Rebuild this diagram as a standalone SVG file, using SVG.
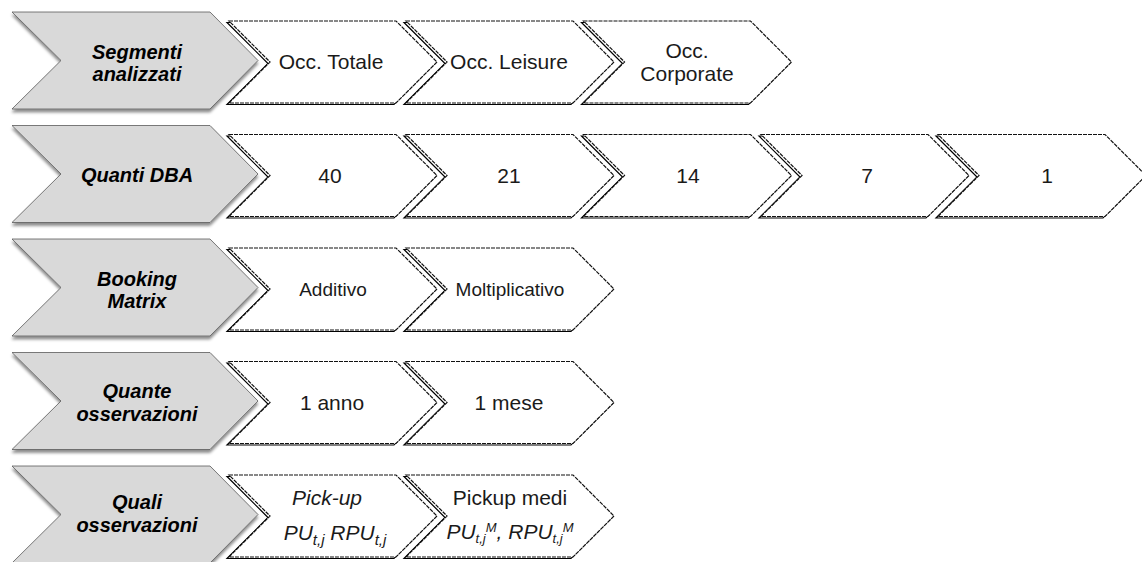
<svg xmlns="http://www.w3.org/2000/svg" width="1142" height="562" viewBox="0 0 1142 562">
  <style>
    .hdr { fill: #d9d9d9; stroke: #5a5a5a; stroke-width: 0.8; filter: url(#soft); }
    .opt { fill: #ffffff; stroke: #111111; stroke-width: 1.2; stroke-dasharray: 4 1; }
    .optShadow { fill: none; stroke: #000000; stroke-width: 1.2; }
    .hdrText { font-family: "Liberation Sans", Arial, sans-serif; font-size: 20px; font-weight: bold; font-style: italic; fill: #000; text-anchor: middle; }
    .optText { font-family: "Liberation Sans", Arial, sans-serif; font-size: 21px; fill: #1a1a1a; text-anchor: middle; }
    .small { font-size: 19px; }
    .it { font-style: italic; }
  </style>
  <defs>
    <filter id="soft" x="-10%" y="-10%" width="120%" height="130%">
      <feDropShadow dx="0" dy="3" stdDeviation="1.4" flood-color="#000" flood-opacity="0.45"/>
    </filter>
    <!-- header chevron, origin at row centre -->
    <path id="hdrShape" d="M12,-50 L210,-50 L258,-1.5 L210,47 L12,47 L61,-1.5 Z"/>
    <!-- option chevron, origin at its top-left x and row centre -->
    <path id="optShape" d="M0,-41 L167,-41 L208,0 L167,41 L0,41 L41,0 Z"/>
  </defs>

  <!-- Row 1: Segmenti analizzati -->
  <g id="row1-header">
    <use href="#hdrShape" class="hdr" transform="translate(0,62)"/>
    <text class="hdrText" x="137" y="59">Segmenti</text>
    <text class="hdrText" x="137" y="81">analizzati</text>
  </g>
  <g id="row1-occ-totale">
    <use href="#optShape" class="optShadow" transform="translate(227,63.5)"/>
    <use href="#optShape" class="opt" transform="translate(229,62)"/>
    <text class="optText" x="331" y="68.5">Occ. Totale</text>
  </g>
  <g id="row1-occ-leisure">
    <use href="#optShape" class="optShadow" transform="translate(404,63.5)"/>
    <use href="#optShape" class="opt" transform="translate(406,62)"/>
    <text class="optText" x="509" y="68.5">Occ. Leisure</text>
  </g>
  <g id="row1-occ-corporate">
    <use href="#optShape" class="optShadow" transform="translate(581.5,63.5)"/>
    <use href="#optShape" class="opt" transform="translate(583.5,62)"/>
    <text class="optText" x="687" y="58">Occ.</text>
    <text class="optText" x="687" y="81">Corporate</text>
  </g>

  <!-- Row 2: Quanti DBA -->
  <g id="row2-header">
    <use href="#hdrShape" class="hdr" transform="translate(0,175.5)"/>
    <text class="hdrText" x="137" y="182">Quanti DBA</text>
  </g>
  <g id="row2-dba-40">
    <use href="#optShape" class="optShadow" transform="translate(227,177)"/>
    <use href="#optShape" class="opt" transform="translate(229,175.5)"/>
    <text class="optText" x="330" y="182.5">40</text>
  </g>
  <g id="row2-dba-21">
    <use href="#optShape" class="optShadow" transform="translate(404,177)"/>
    <use href="#optShape" class="opt" transform="translate(406,175.5)"/>
    <text class="optText" x="509" y="182.5">21</text>
  </g>
  <g id="row2-dba-14">
    <use href="#optShape" class="optShadow" transform="translate(581.5,177)"/>
    <use href="#optShape" class="opt" transform="translate(583.5,175.5)"/>
    <text class="optText" x="688" y="182.5">14</text>
  </g>
  <g id="row2-dba-7">
    <use href="#optShape" class="optShadow" transform="translate(759,177)"/>
    <use href="#optShape" class="opt" transform="translate(761,175.5)"/>
    <text class="optText" x="867" y="182.5">7</text>
  </g>
  <g id="row2-dba-1">
    <use href="#optShape" class="optShadow" transform="translate(936,177)"/>
    <use href="#optShape" class="opt" transform="translate(938,175.5)"/>
    <text class="optText" x="1047" y="182.5">1</text>
  </g>

  <!-- Row 3: Booking Matrix -->
  <g id="row3-header">
    <use href="#hdrShape" class="hdr" transform="translate(0,289)"/>
    <text class="hdrText" x="137" y="285.5">Booking</text>
    <text class="hdrText" x="137" y="308">Matrix</text>
  </g>
  <g id="row3-additivo">
    <use href="#optShape" class="optShadow" transform="translate(227,290.5)"/>
    <use href="#optShape" class="opt" transform="translate(229,289)"/>
    <text class="optText small" x="333" y="296">Additivo</text>
  </g>
  <g id="row3-moltiplicativo">
    <use href="#optShape" class="optShadow" transform="translate(404,290.5)"/>
    <use href="#optShape" class="opt" transform="translate(406,289)"/>
    <text class="optText small" x="510" y="296">Moltiplicativo</text>
  </g>

  <!-- Row 4: Quante osservazioni -->
  <g id="row4-header">
    <use href="#hdrShape" class="hdr" transform="translate(0,402.5)"/>
    <text class="hdrText" x="137" y="398">Quante</text>
    <text class="hdrText" x="137" y="421">osservazioni</text>
  </g>
  <g id="row4-anno">
    <use href="#optShape" class="optShadow" transform="translate(227,404)"/>
    <use href="#optShape" class="opt" transform="translate(229,402.5)"/>
    <text class="optText" x="332" y="409.5">1 anno</text>
  </g>
  <g id="row4-mese">
    <use href="#optShape" class="optShadow" transform="translate(404,404)"/>
    <use href="#optShape" class="opt" transform="translate(406,402.5)"/>
    <text class="optText" x="509" y="409.5">1 mese</text>
  </g>

  <!-- Row 5: Quali osservazioni -->
  <g id="row5-header">
    <use href="#hdrShape" class="hdr" transform="translate(0,516)"/>
    <text class="hdrText" x="137" y="509">Quali</text>
    <text class="hdrText" x="137" y="532">osservazioni</text>
  </g>
  <g id="row5-pickup">
    <use href="#optShape" class="optShadow" transform="translate(227,517.5)"/>
    <use href="#optShape" class="opt" transform="translate(229,516)"/>
    <text class="optText it" x="327" y="504.5">Pick-up</text>
    <text class="optText it" x="335" y="540">PU<tspan font-size="15" dy="5">t,j</tspan><tspan dy="-5"> RPU</tspan><tspan font-size="15" dy="5">t,j</tspan></text>
  </g>
  <g id="row5-pickup-medi">
    <use href="#optShape" class="optShadow" transform="translate(404,517.5)"/>
    <use href="#optShape" class="opt" transform="translate(406,516)"/>
    <text class="optText" x="510" y="504.5">Pickup medi</text>
    <text class="optText it" x="510" y="539" font-size="18">PU<tspan font-size="13" dy="4">t,j</tspan><tspan font-size="13" dy="-11">M</tspan><tspan dy="7">, RPU</tspan><tspan font-size="13" dy="4">t,j</tspan><tspan font-size="13" dy="-11">M</tspan></text>
  </g>
</svg>
